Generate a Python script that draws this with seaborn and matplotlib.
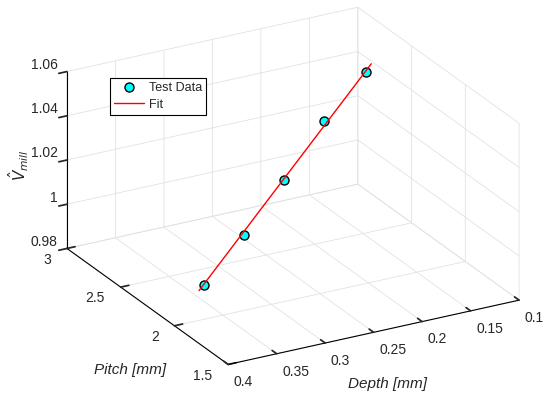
import numpy as np
import matplotlib
matplotlib.use("Agg")
import matplotlib.pyplot as plt
import matplotlib.transforms as mtransforms
import seaborn as sns

# test points
depth = [0.342, 0.295, 0.248, 0.201, 0.153]
pitch = [2.25, 2.30, 2.35, 2.40, 2.45]
v_mill = [0.984, 1.0006, 1.0189, 1.0395, 1.0549]

# fitted line end points
fit_depth = [0.348, 0.146]
fit_pitch = [2.24, 2.46]
fit_v = [0.9825, 1.0578]

depth_ticks = [0.1, 0.15, 0.2, 0.25, 0.3, 0.35, 0.4]
pitch_ticks = [1.5, 2, 2.5, 3]
v_ticks = [0.98, 1, 1.02, 1.04, 1.06]

sns.set_theme(style="white")
plt.rcParams['font.family'] = ['Liberation Sans', 'DejaVu Sans']

fig = plt.figure(figsize=(5.5, 3.98), dpi=100)
ax = fig.add_subplot(projection='3d', proj_type='ortho', computed_zorder=False)
ax.set_position([0.023, 0.0195, 1, 1])

ax.plot(pitch, depth, v_mill, 'o', color='cyan', markeredgecolor='black',
        markersize=6.5, markeredgewidth=1.0, label='Test Data', zorder=5)
ax.plot(fit_pitch, fit_depth, fit_v, '-', color='red', linewidth=1.0, label='Fit', zorder=6)

ax.set_xlim(1.5, 3)
ax.set_ylim(0.1, 0.4)
ax.set_zlim(0.98, 1.06)
ax.set_xticks(pitch_ticks)
ax.set_yticks(depth_ticks)
ax.set_zticks(v_ticks)
fmt = matplotlib.ticker.FormatStrFormatter('%g')
for a in (ax.xaxis, ax.yaxis, ax.zaxis):
    a.set_major_formatter(fmt)
    a.set_pane_color((1, 1, 1, 0))
    a.pane.set_edgecolor('#d0d0d0')
    a.line.set_color('black')
    a.line.set_linewidth(0.8)
    a._axinfo['grid'].update(color='#e2e2e2', linewidth=0.6)
    a._axinfo['tick'].update(inward_factor=0.0, outward_factor=0.35)
ax.zaxis._axinfo['tick'].update(inward_factor=0.35, outward_factor=0.0)
ax.tick_params(labelsize=10, pad=-3)
ax.zaxis.set_ticks_position('upper')


# MATLAB-like tick label placement: shift labels by a few pixels
def shift_labels(axis, dx, dy, ha):
    orig = axis.get_major_ticks
    off = mtransforms.ScaledTranslation(dx / 100, dy / 100, fig.dpi_scale_trans)

    def patched(numticks=None):
        ticks = orig(numticks)
        for t in ticks:
            t.label1.set_transform(ax.transData + off)
            t.label1.set_horizontalalignment(ha)
            t.label1.set_verticalalignment('center')
        return ticks
    axis.get_major_ticks = patched


shift_labels(ax.xaxis, -6, -3, 'right')
shift_labels(ax.yaxis, 0, -8, 'left')
shift_labels(ax.zaxis, 6, 5, 'right')

ax.set_xlabel('')
ax.set_ylabel('')
ax.set_zlabel('')

ax.view_init(elev=23.5, azim=151)
ax.set_box_aspect((1, 1, 0.58), zoom=1.24)

fig.text(130 / 550, 1 - 370 / 398, 'Pitch [mm]', fontstyle='italic', fontsize=11,
         ha='center', va='center')
fig.text(387 / 550, 1 - 384 / 398, 'Depth [mm]', fontstyle='italic', fontsize=11,
         ha='center', va='center')
fig.text(19 / 550, 1 - 165 / 398, r'$\hat{V}_{mill}$', fontsize=11, rotation=90,
         ha='center', va='center')

leg = fig.legend(loc='upper left', bbox_to_anchor=(110 / 550, 1 - 78 / 398),
                 bbox_transform=fig.transFigure, frameon=True, fancybox=False,
                 edgecolor='black', fontsize=9, handlelength=2.4, borderpad=0.35,
                 labelspacing=0.35, handletextpad=0.35, borderaxespad=0,
                 framealpha=1)
leg.get_frame().set_linewidth(0.8)

fig.savefig('out.png', dpi=100)
